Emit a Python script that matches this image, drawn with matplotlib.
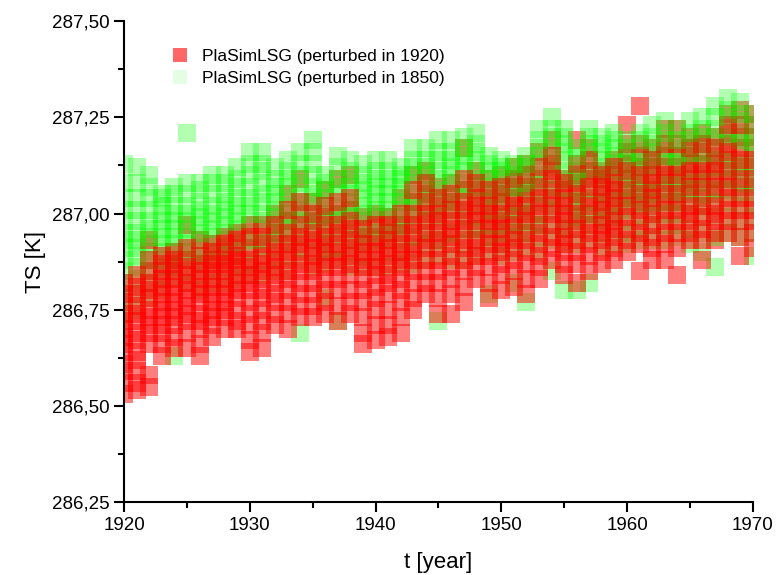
import matplotlib
matplotlib.use("Agg")
import matplotlib.pyplot as plt
import numpy as np
from matplotlib.lines import Line2D
from matplotlib.ticker import FuncFormatter, MultipleLocator

plt.rcParams['font.family'] = ['Liberation Sans', 'DejaVu Sans']

years = list(range(1920, 1971))

# ensemble members per year (K)
ts_1920 = [
    [286.53, 286.56, 286.59, 286.61, 286.64, 286.66, 286.68, 286.70, 286.72, 286.74, 286.77, 286.79, 286.82],
    [286.54, 286.56, 286.59, 286.62, 286.64, 286.67, 286.69, 286.72, 286.74, 286.76, 286.79, 286.81, 286.84],
    [286.55, 286.58, 286.66, 286.69, 286.71, 286.73, 286.75, 286.78, 286.80, 286.82, 286.85, 286.88, 286.93],
    [286.63, 286.66, 286.69, 286.71, 286.73, 286.75, 286.77, 286.79, 286.81, 286.83, 286.85, 286.87, 286.89],
    [286.65, 286.68, 286.71, 286.73, 286.75, 286.77, 286.79, 286.81, 286.83, 286.85, 286.87, 286.88, 286.90],
    [286.65, 286.69, 286.72, 286.74, 286.76, 286.78, 286.80, 286.82, 286.84, 286.86, 286.88, 286.91, 286.97],
    [286.63, 286.66, 286.70, 286.72, 286.74, 286.77, 286.79, 286.81, 286.83, 286.85, 286.87, 286.89, 286.93],
    [286.68, 286.71, 286.73, 286.75, 286.77, 286.79, 286.81, 286.83, 286.85, 286.87, 286.88, 286.90, 286.92],
    [286.70, 286.73, 286.75, 286.77, 286.79, 286.81, 286.83, 286.85, 286.87, 286.88, 286.90, 286.92, 286.94],
    [286.70, 286.72, 286.75, 286.78, 286.80, 286.82, 286.84, 286.86, 286.88, 286.89, 286.91, 286.93, 286.95],
    [286.64, 286.67, 286.71, 286.74, 286.77, 286.80, 286.82, 286.84, 286.86, 286.88, 286.91, 286.94, 286.97],
    [286.65, 286.69, 286.72, 286.75, 286.78, 286.80, 286.83, 286.85, 286.87, 286.89, 286.92, 286.94, 286.97],
    [286.71, 286.74, 286.77, 286.79, 286.82, 286.84, 286.86, 286.88, 286.90, 286.92, 286.95, 286.97, 287.00],
    [286.70, 286.74, 286.77, 286.80, 286.83, 286.85, 286.88, 286.90, 286.92, 286.95, 286.98, 287.01, 287.05],
    [286.73, 286.76, 286.79, 286.82, 286.85, 286.87, 286.90, 286.92, 286.94, 286.97, 287.00, 287.03, 287.09],
    [286.73, 286.76, 286.79, 286.82, 286.85, 286.87, 286.89, 286.91, 286.93, 286.95, 286.98, 287.00, 287.03],
    [286.74, 286.77, 286.80, 286.83, 286.86, 286.88, 286.90, 286.92, 286.94, 286.97, 286.99, 287.02, 287.06],
    [286.72, 286.76, 286.80, 286.83, 286.86, 286.88, 286.90, 286.92, 286.95, 286.97, 287.00, 287.03, 287.09],
    [286.74, 286.77, 286.80, 286.84, 286.87, 286.89, 286.91, 286.93, 286.96, 286.98, 287.01, 287.04, 287.10],
    [286.66, 286.69, 286.73, 286.77, 286.80, 286.83, 286.86, 286.88, 286.90, 286.92, 286.94, 286.96, 286.99],
    [286.67, 286.71, 286.75, 286.78, 286.81, 286.84, 286.86, 286.88, 286.90, 286.92, 286.94, 286.97, 287.00],
    [286.68, 286.71, 286.75, 286.79, 286.82, 286.84, 286.87, 286.89, 286.91, 286.93, 286.95, 286.97, 286.99],
    [286.69, 286.73, 286.77, 286.80, 286.83, 286.86, 286.88, 286.90, 286.92, 286.95, 286.97, 287.00, 287.04],
    [286.75, 286.78, 286.82, 286.85, 286.88, 286.90, 286.92, 286.95, 286.97, 287.00, 287.03, 287.06, 287.10],
    [286.79, 286.82, 286.85, 286.88, 286.91, 286.93, 286.95, 286.98, 287.00, 287.03, 287.05, 287.08, 287.11],
    [286.74, 286.78, 286.82, 286.85, 286.88, 286.91, 286.93, 286.95, 286.98, 287.00, 287.02, 287.04, 287.07],
    [286.74, 286.79, 286.83, 286.86, 286.89, 286.92, 286.94, 286.96, 286.98, 287.01, 287.03, 287.05, 287.08],
    [286.77, 286.81, 286.85, 286.88, 286.91, 286.93, 286.96, 286.98, 287.01, 287.03, 287.06, 287.09, 287.17],
    [286.83, 286.86, 286.89, 286.91, 286.93, 286.96, 286.98, 287.00, 287.02, 287.04, 287.06, 287.08, 287.11],
    [286.78, 286.82, 286.86, 286.89, 286.92, 286.94, 286.96, 286.98, 287.00, 287.02, 287.04, 287.06, 287.09],
    [286.80, 286.84, 286.87, 286.90, 286.92, 286.94, 286.96, 286.98, 287.00, 287.03, 287.05, 287.07, 287.10],
    [286.81, 286.85, 286.88, 286.91, 286.93, 286.95, 286.97, 287.00, 287.02, 287.04, 287.07, 287.09, 287.12],
    [286.79, 286.83, 286.87, 286.90, 286.93, 286.95, 286.98, 287.00, 287.02, 287.05, 287.07, 287.10, 287.13],
    [286.83, 286.86, 286.89, 286.92, 286.95, 286.97, 287.00, 287.02, 287.04, 287.07, 287.09, 287.12, 287.16],
    [286.88, 286.91, 286.94, 286.97, 287.00, 287.02, 287.04, 287.06, 287.09, 287.11, 287.13, 287.15, 287.19],
    [286.84, 286.87, 286.90, 286.92, 286.94, 286.96, 286.98, 287.00, 287.02, 287.04, 287.06, 287.08, 287.09],
    [286.82, 286.87, 286.90, 286.93, 286.96, 286.98, 287.00, 287.03, 287.05, 287.08, 287.10, 287.13, 287.19],
    [286.85, 286.89, 286.92, 286.95, 286.97, 287.00, 287.02, 287.04, 287.07, 287.09, 287.11, 287.14, 287.17],
    [286.87, 286.90, 286.93, 286.95, 286.97, 286.99, 287.01, 287.03, 287.05, 287.07, 287.09, 287.10, 287.11],
    [286.88, 286.91, 286.94, 286.96, 286.98, 287.00, 287.02, 287.04, 287.06, 287.08, 287.10, 287.12, 287.14],
    [286.90, 286.93, 286.96, 286.99, 287.02, 287.04, 287.06, 287.09, 287.11, 287.13, 287.16, 287.18, 287.23],
    [286.85, 286.92, 286.95, 286.98, 287.01, 287.03, 287.05, 287.08, 287.10, 287.12, 287.15, 287.18, 287.28],
    [286.88, 286.91, 286.94, 286.97, 287.00, 287.02, 287.04, 287.06, 287.08, 287.10, 287.12, 287.14, 287.17],
    [286.88, 286.92, 286.95, 286.98, 287.01, 287.03, 287.05, 287.08, 287.10, 287.12, 287.15, 287.18, 287.22],
    [286.84, 286.91, 286.95, 286.98, 287.01, 287.03, 287.05, 287.08, 287.10, 287.12, 287.15, 287.18, 287.22],
    [286.93, 286.95, 286.98, 287.00, 287.02, 287.05, 287.07, 287.09, 287.11, 287.13, 287.15, 287.17, 287.20],
    [286.88, 286.93, 286.96, 286.99, 287.02, 287.04, 287.07, 287.09, 287.11, 287.13, 287.16, 287.18, 287.21],
    [286.93, 286.95, 286.98, 287.00, 287.02, 287.05, 287.07, 287.09, 287.11, 287.13, 287.15, 287.17, 287.20],
    [286.95, 286.98, 287.01, 287.04, 287.07, 287.09, 287.11, 287.14, 287.16, 287.18, 287.21, 287.23, 287.26],
    [286.89, 286.94, 286.98, 287.01, 287.04, 287.07, 287.09, 287.12, 287.14, 287.17, 287.20, 287.23, 287.27],
    [286.91, 286.95, 286.98, 287.01, 287.04, 287.07, 287.09, 287.12, 287.14, 287.17, 287.20, 287.23, 287.26],
]

ts_1850 = [
    [286.74, 286.78, 286.82, 286.85, 286.88, 286.91, 286.93, 286.95, 286.98, 287.01, 287.04, 287.08, 287.13],
    [286.75, 286.79, 286.83, 286.86, 286.89, 286.91, 286.93, 286.95, 286.98, 287.01, 287.04, 287.08, 287.12],
    [286.78, 286.82, 286.85, 286.88, 286.90, 286.92, 286.94, 286.96, 286.98, 287.01, 287.04, 287.07, 287.10],
    [286.80, 286.83, 286.86, 286.88, 286.90, 286.92, 286.94, 286.96, 286.98, 287.00, 287.02, 287.04, 287.05],
    [286.63, 286.83, 286.86, 286.88, 286.90, 286.92, 286.94, 286.96, 286.98, 287.00, 287.02, 287.05, 287.07],
    [286.82, 286.85, 286.88, 286.90, 286.92, 286.94, 286.96, 286.98, 287.00, 287.02, 287.05, 287.08, 287.21],
    [286.80, 286.84, 286.87, 286.89, 286.91, 286.93, 286.95, 286.97, 286.99, 287.01, 287.03, 287.06, 287.08],
    [286.82, 286.85, 286.88, 286.90, 286.92, 286.94, 286.96, 286.98, 287.00, 287.02, 287.05, 287.08, 287.10],
    [286.82, 286.86, 286.89, 286.91, 286.93, 286.95, 286.97, 286.99, 287.01, 287.03, 287.05, 287.08, 287.10],
    [286.83, 286.86, 286.89, 286.92, 286.94, 286.96, 286.98, 287.00, 287.02, 287.04, 287.07, 287.09, 287.12],
    [286.84, 286.87, 286.90, 286.93, 286.95, 286.97, 287.00, 287.02, 287.04, 287.07, 287.10, 287.13, 287.16],
    [286.84, 286.88, 286.91, 286.93, 286.96, 286.98, 287.00, 287.03, 287.05, 287.08, 287.11, 287.13, 287.16],
    [286.85, 286.88, 286.91, 286.93, 286.95, 286.97, 286.99, 287.01, 287.03, 287.05, 287.07, 287.09, 287.12],
    [286.85, 286.89, 286.92, 286.94, 286.96, 286.98, 287.00, 287.02, 287.04, 287.07, 287.09, 287.11, 287.14],
    [286.69, 286.88, 286.91, 286.94, 286.96, 286.98, 287.01, 287.03, 287.05, 287.08, 287.10, 287.13, 287.16],
    [286.86, 286.90, 286.93, 286.96, 286.98, 287.00, 287.03, 287.05, 287.07, 287.10, 287.13, 287.16, 287.19],
    [286.78, 286.87, 286.90, 286.92, 286.94, 286.96, 286.98, 287.00, 287.02, 287.04, 287.06, 287.08, 287.10],
    [286.72, 286.88, 286.91, 286.94, 286.96, 286.98, 287.00, 287.02, 287.05, 287.07, 287.09, 287.12, 287.15],
    [286.86, 286.90, 286.93, 286.95, 286.97, 286.99, 287.01, 287.03, 287.05, 287.07, 287.09, 287.11, 287.14],
    [286.86, 286.89, 286.92, 286.94, 286.96, 286.98, 287.00, 287.02, 287.04, 287.06, 287.08, 287.10, 287.13],
    [286.86, 286.90, 286.93, 286.95, 286.97, 286.99, 287.01, 287.03, 287.05, 287.07, 287.09, 287.11, 287.14],
    [286.86, 286.90, 286.93, 286.95, 286.97, 286.99, 287.01, 287.03, 287.05, 287.07, 287.09, 287.11, 287.14],
    [286.87, 286.90, 286.93, 286.95, 286.97, 286.99, 287.01, 287.03, 287.05, 287.07, 287.09, 287.10, 287.12],
    [286.87, 286.91, 286.94, 286.97, 286.99, 287.01, 287.03, 287.05, 287.08, 287.10, 287.12, 287.14, 287.17],
    [286.88, 286.92, 286.95, 286.98, 287.00, 287.02, 287.04, 287.06, 287.08, 287.10, 287.12, 287.14, 287.17],
    [286.72, 286.89, 286.93, 286.96, 286.99, 287.01, 287.04, 287.06, 287.09, 287.11, 287.14, 287.16, 287.19],
    [286.88, 286.92, 286.95, 286.98, 287.01, 287.03, 287.05, 287.08, 287.10, 287.12, 287.14, 287.16, 287.19],
    [286.88, 286.92, 286.96, 286.99, 287.01, 287.04, 287.06, 287.08, 287.11, 287.13, 287.15, 287.17, 287.20],
    [286.89, 286.93, 286.96, 286.99, 287.02, 287.04, 287.07, 287.09, 287.11, 287.14, 287.16, 287.18, 287.21],
    [286.79, 286.90, 286.94, 286.97, 286.99, 287.01, 287.03, 287.05, 287.07, 287.09, 287.11, 287.13, 287.15],
    [286.89, 286.92, 286.95, 286.97, 286.99, 287.01, 287.03, 287.05, 287.07, 287.09, 287.11, 287.12, 287.14],
    [286.82, 286.90, 286.94, 286.97, 286.99, 287.01, 287.03, 287.05, 287.07, 287.09, 287.10, 287.12, 287.13],
    [286.77, 286.91, 286.95, 286.98, 287.00, 287.02, 287.04, 287.06, 287.08, 287.10, 287.12, 287.13, 287.15],
    [286.90, 286.94, 286.97, 287.00, 287.03, 287.05, 287.08, 287.10, 287.13, 287.15, 287.17, 287.19, 287.22],
    [286.85, 286.93, 286.97, 287.01, 287.04, 287.07, 287.10, 287.12, 287.15, 287.17, 287.20, 287.22, 287.25],
    [286.80, 286.92, 286.96, 287.00, 287.03, 287.06, 287.09, 287.11, 287.14, 287.16, 287.18, 287.20, 287.22],
    [286.80, 286.92, 286.96, 286.99, 287.01, 287.03, 287.05, 287.07, 287.09, 287.11, 287.13, 287.15, 287.17],
    [286.82, 286.93, 286.97, 287.00, 287.03, 287.06, 287.09, 287.11, 287.14, 287.16, 287.18, 287.20, 287.22],
    [286.91, 286.95, 286.98, 287.01, 287.03, 287.05, 287.08, 287.10, 287.12, 287.14, 287.16, 287.18, 287.20],
    [286.92, 286.96, 286.99, 287.02, 287.04, 287.06, 287.09, 287.11, 287.13, 287.15, 287.17, 287.19, 287.21],
    [286.92, 286.95, 286.98, 287.01, 287.03, 287.05, 287.07, 287.09, 287.11, 287.13, 287.15, 287.17, 287.19],
    [286.93, 286.96, 286.99, 287.02, 287.04, 287.06, 287.08, 287.10, 287.12, 287.14, 287.16, 287.19, 287.21],
    [286.93, 286.97, 287.00, 287.03, 287.05, 287.07, 287.09, 287.12, 287.14, 287.16, 287.18, 287.20, 287.23],
    [286.93, 286.97, 287.00, 287.03, 287.06, 287.08, 287.10, 287.13, 287.15, 287.17, 287.19, 287.21, 287.24],
    [286.94, 286.97, 287.00, 287.03, 287.05, 287.07, 287.09, 287.11, 287.13, 287.15, 287.17, 287.19, 287.22],
    [286.92, 286.96, 287.00, 287.03, 287.06, 287.08, 287.10, 287.13, 287.15, 287.17, 287.19, 287.21, 287.24],
    [286.90, 286.95, 286.99, 287.02, 287.05, 287.08, 287.10, 287.13, 287.15, 287.18, 287.20, 287.22, 287.25],
    [286.86, 286.94, 286.99, 287.03, 287.06, 287.09, 287.12, 287.14, 287.17, 287.20, 287.22, 287.25, 287.28],
    [286.95, 286.99, 287.03, 287.06, 287.09, 287.12, 287.14, 287.17, 287.20, 287.22, 287.25, 287.27, 287.30],
    [286.94, 286.98, 287.02, 287.05, 287.08, 287.11, 287.13, 287.16, 287.19, 287.21, 287.24, 287.26, 287.29],
    [286.89, 286.95, 286.99, 287.02, 287.05, 287.08, 287.10, 287.13, 287.15, 287.18, 287.20, 287.23, 287.26],
]

label_1920 = "PlaSimLSG (perturbed in 1920)"
label_1850 = "PlaSimLSG (perturbed in 1850)"

fig = plt.figure(figsize=(7.76, 5.75), dpi=100)
ax = fig.add_axes([0.160, 0.127, 0.810, 0.836])

# draw member by member, alternating the two runs so colours mix
g = np.array(ts_1850)
r = np.array(ts_1920)
n_members = g.shape[1]
for i in range(n_members):
    ax.scatter(years, g[:, i], marker="s", s=165, color="#00ff00", alpha=0.3, linewidths=0)
    ax.scatter(years, r[:, (i * 5) % n_members], marker="s", s=165, color="#ff0000",
               alpha=0.5, linewidths=0)

ax.set_xlim(1920, 1970)
ax.set_ylim(286.25, 287.50)

ax.xaxis.set_major_locator(MultipleLocator(10))
ax.xaxis.set_minor_locator(MultipleLocator(5))
ax.yaxis.set_major_locator(MultipleLocator(0.25))
ax.yaxis.set_minor_locator(MultipleLocator(0.125))
ax.yaxis.set_major_formatter(FuncFormatter(lambda v, p: f"{v:.2f}".replace(".", ",")))

for s in ["top", "right"]:
    ax.spines[s].set_visible(False)
for s in ["left", "bottom"]:
    ax.spines[s].set_linewidth(1.5)

ax.tick_params(which="major", direction="out", length=7, width=1.5, labelsize=13.5)
ax.tick_params(which="minor", direction="out", length=4, width=1.5)

ax.set_xlabel("t [year]", fontsize=16, labelpad=13)
ax.set_ylabel("TS [K]", fontsize=16, labelpad=4)

handles = [
    Line2D([], [], marker="s", linestyle="none", markersize=10, markeredgewidth=0,
           color="#ff0000", alpha=0.6),
    Line2D([], [], marker="s", linestyle="none", markersize=10, markeredgewidth=0,
           color="#00ee00", alpha=0.1),
]
ax.legend(handles, [label_1920, label_1850], loc="upper left", bbox_to_anchor=(0.05, 0.975),
          frameon=False, fontsize=12.5, handletextpad=0.8, labelspacing=0.4, handlelength=1.0)

plt.savefig("out.png", dpi=100)
